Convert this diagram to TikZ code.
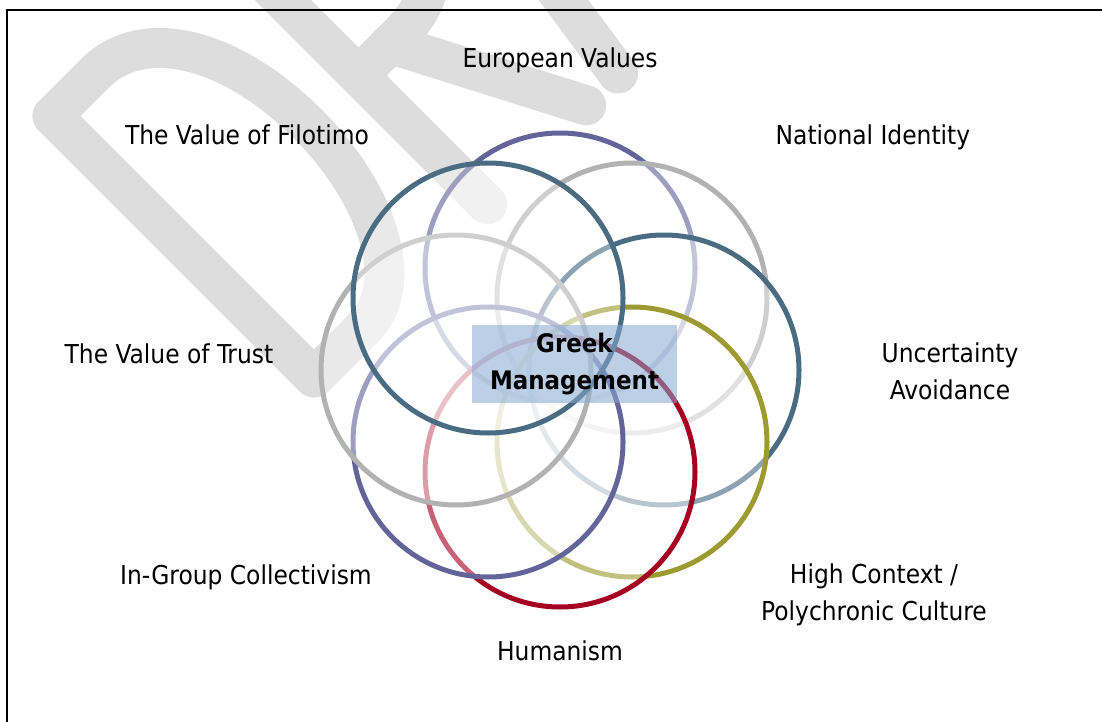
\documentclass[tikz,border=0pt]{standalone}
\usepackage{fontspec}
\setmainfont{DejaVu Sans Condensed}
\definecolor{wm}{RGB}{221,221,221}
\definecolor{cpurple}{RGB}{100,100,155}
\definecolor{cteal}{RGB}{74,108,130}
\definecolor{cgray}{RGB}{178,178,178}
\definecolor{colive}{RGB}{155,155,50}
\definecolor{cred}{RGB}{165,0,33}
\definecolor{boxblue}{RGB}{133,169,209}
\tikzset{
  ring/.style={circle, inner sep=0pt, minimum size=270pt, line width=5pt,
               fill=white, fill opacity=0.38, draw=#1},
  lbl/.style={font=\fontsize{26}{37}\selectfont, inner sep=0pt, align=center},
  wmark/.style={color=wm, line width=40pt, line cap=round, line join=round},
}
\begin{document}
\begin{tikzpicture}[x=1pt,y=-1pt]
\useasboundingbox (0,0) rectangle (1102,722);
\clip (0,0) rectangle (1102,722);
% DRAFT watermark
\begin{scope}[x={(0.7071pt,0.7071pt)}, y={(-0.7071pt,0.7071pt)}]
  \draw[wmark] (-45,-119) -- (15,-119) .. controls (85,-119) and (130,-200) .. (130,-305)
        .. controls (130,-400) and (90,-489) .. (25,-489) -- (-45,-489) -- cycle;
  \draw[wmark] (200,-489) -- (200,-119) -- (260,-119) .. controls (330,-119) and (345,-160) .. (345,-212)
        .. controls (345,-270) and (320,-307) .. (260,-307) -- (200,-307);
  \draw[wmark] (245,-307) -- (340,-489);
  \draw[wmark] (385,-489) -- (440,-119);
\end{scope}
% frame
\draw[line width=2pt] (7,760) -- (7,10) -- (1140,10);
% rings
\node[ring=cpurple] (eur) at (560,268) {};
\node[ring=cgray]   (nat) at (632,298) {};
\node[ring=cteal]   (unc) at (664,370) {};
\node[ring=colive]  (hc)  at (632,442) {};
\node[ring=cred]    (hum) at (560,472) {};
\node[ring=cpurple] (igc) at (488,442) {};
\node[ring=cgray]   (tru) at (456,370) {};
\node[ring=cteal]   (fil) at (488,298) {};
% centre
\node[lbl, font=\bfseries\fontsize{25.5}{37}\selectfont, fill=boxblue, fill opacity=0.55,
      text opacity=1, minimum width=205pt, minimum height=78pt] (gm) at (574.5,364)
      {\strut Greek\\\strut Management};
% labels
\node[lbl, anchor=base] (l1) at (560,68) {European Values};
\node[lbl, anchor=base] (l2) at (247,145) {The Value of Filotimo};
\node[lbl, anchor=base] (l3) at (873,145) {National Identity};
\node[lbl, anchor=base] (l4) at (169,363) {The Value of Trust};
\node[lbl] (l5) at (950,374) {\strut Uncertainty\\\strut Avoidance};
\node[lbl, anchor=base] (l6) at (246,584) {In-Group Collectivism};
\node[lbl] (l7) at (874,595) {\strut High Context /\\\strut Polychronic Culture};
\node[lbl, anchor=base] (l8) at (560,660) {Humanism};
\end{tikzpicture}
\end{document}
